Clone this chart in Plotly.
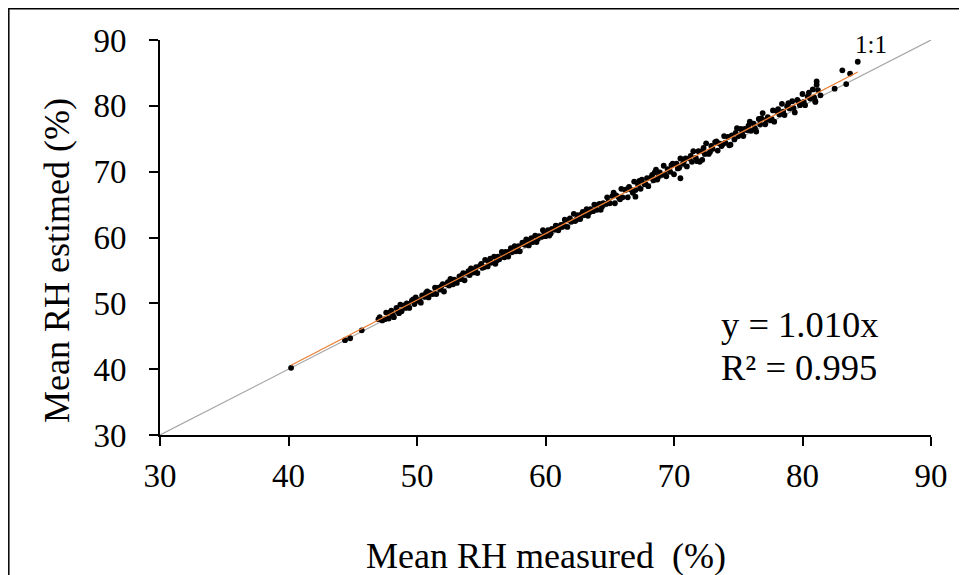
import plotly.graph_objects as go

# ---- data ----
measured = [
    40.2, 44.4, 44.8, 45.7, 47.0,
    47.1, 47.3, 47.6, 47.8, 47.9, 48.1, 48.2, 48.4, 48.5, 48.7, 48.8, 49.0, 49.1, 49.3, 49.4,
    49.6, 49.8, 49.9, 50.1, 50.3, 50.4, 50.6, 50.7, 50.9, 51.0, 51.2, 51.4, 51.5, 51.7, 51.8,
    52.0, 52.1, 52.3, 52.5, 52.6, 52.8, 52.9, 53.1, 53.3, 53.4, 53.6, 53.7, 53.9, 54.1, 54.2,
    54.4, 54.6, 54.7, 54.9,
    55.0, 55.2, 55.3, 55.5, 55.6, 55.8, 56.0, 56.1, 56.3, 56.4, 56.6, 56.8, 56.9, 57.1, 57.2,
    57.4, 57.6, 57.7, 57.9, 58.0, 58.2, 58.4, 58.5, 58.7, 58.8, 59.0, 59.2, 59.3, 59.5, 59.7,
    59.8, 60.0, 60.2, 60.3, 60.5, 60.7, 60.8, 61.0, 61.2, 61.3, 61.5, 61.7, 61.8, 62.0, 62.2,
    62.3, 62.5, 62.7, 62.8, 63.0, 63.2, 63.3, 63.5, 63.7, 63.8, 64.0, 64.2, 64.3, 64.5, 64.7,
    64.8,
    65.0, 65.2, 65.4, 65.5, 65.7, 65.9, 66.0, 66.2, 66.4, 66.5, 66.7, 66.9, 67.0, 67.2, 67.4,
    67.5, 67.7, 67.9, 68.0, 68.2, 68.4, 68.5, 68.7, 68.9, 69.0, 69.2, 69.4, 69.5, 69.7, 69.9,
    70.0, 70.2, 70.4, 70.5, 70.7, 70.9, 71.0, 71.2, 71.4, 71.5, 71.7, 71.9, 72.0, 72.2, 72.4,
    72.5, 72.7, 72.9, 73.0, 73.2, 73.4, 73.5, 73.7, 73.9, 74.0, 74.2, 74.4, 74.5, 74.7, 74.9,
    75.0, 75.2, 75.4, 75.5, 75.7, 75.9, 76.0, 76.2, 76.4, 76.6, 76.7, 76.9, 77.1, 77.3, 77.5,
    77.7, 77.8, 78.0, 78.2, 78.4, 78.6, 78.8, 79.0, 79.2, 79.4, 79.6, 79.8, 80.0, 80.2, 80.4,
    80.6, 80.8, 81.0, 81.2, 81.4,
    47.5, 48.0, 48.6, 49.2, 49.7, 50.2, 50.8, 51.3, 51.9, 52.4, 53.0, 53.5, 54.0, 54.5, 55.1,
    55.7, 56.2, 56.7, 57.3, 57.8, 58.3, 58.9, 59.4, 59.9, 60.4, 60.9, 61.4, 61.9, 62.4, 62.9,
    63.4, 63.9, 64.4, 64.9, 65.3, 65.8, 66.3, 66.8, 67.3, 67.8, 68.3, 68.8, 69.3, 69.8, 70.3,
    70.8, 71.3, 71.8, 72.3, 72.8, 73.3, 73.8, 74.3, 74.8, 75.3, 75.8, 76.3, 76.8, 77.2, 77.6,
    78.1, 78.5, 78.9, 79.3, 79.7, 80.1, 80.5, 80.9, 81.1, 81.1, 81.0, 82.5, 83.4, 83.1, 83.7,
    84.3, 67.0, 70.5, 68.6, 72.2,
]
estimated = [
    40.2, 44.4, 44.7, 45.9, 47.6,
    47.9, 47.4, 48.6, 47.7, 48.6, 48.3, 47.9, 49.3, 48.8, 49.8, 48.8, 49.7, 49.3, 49.9, 49.3,
    50.4, 49.9, 50.9, 50.4, 50.1, 51.2, 51.0, 51.6, 50.9, 51.6, 51.4, 52.4, 51.4, 52.4, 52.1,
    52.9, 51.8, 52.9, 52.7, 53.7, 52.9, 53.6, 53.1, 54.1, 53.7, 54.6, 53.5, 54.5, 54.3, 55.3,
    54.7, 55.5, 54.6, 55.7,
    56.0, 55.5, 56.6, 55.6, 56.3, 56.2, 57.1, 56.0, 57.1, 56.7, 57.8, 57.0, 57.8, 57.1, 57.9,
    57.8, 58.7, 57.9, 58.7, 57.9, 59.2, 58.9, 59.7, 58.8, 59.6, 59.3, 60.3, 59.3, 60.2, 60.1,
    61.1, 60.2, 61.1, 60.3, 61.3, 61.2, 61.8, 61.1, 61.9, 61.6, 62.7, 61.6, 62.6, 62.4, 63.6,
    62.5, 63.4, 62.8, 63.5, 63.4, 64.3, 63.3, 64.3, 64.0, 65.0, 64.2, 65.1, 64.2, 65.2, 65.1,
    66.1,
    65.2, 66.3, 65.2, 66.4, 66.1, 67.4, 66.1, 67.2, 66.1, 67.7, 67.2, 68.5, 67.2, 68.0, 67.4,
    68.8, 68.1, 69.0, 67.8, 69.1, 68.7, 69.9, 68.8, 69.9, 69.5, 70.9, 69.3, 70.4, 70.0, 71.2,
    69.6, 71.2, 70.6, 72.0, 71.2, 72.0, 70.8, 72.0, 71.5, 73.1, 72.1, 73.1, 71.5, 73.1, 72.7,
    74.3, 72.7, 73.9, 73.5, 74.5, 73.2, 74.3, 73.9, 75.4, 74.4, 75.3, 74.1, 75.5, 74.9, 76.6,
    75.4, 76.5, 75.4, 76.5, 76.3, 77.6, 76.2, 77.3, 76.1, 78.0, 77.2, 78.9, 77.2, 78.3, 77.8,
    79.3, 77.6, 79.2, 78.7, 80.3, 78.6, 79.9, 79.6, 80.7, 79.0, 80.9, 80.1, 81.8, 80.1, 81.4,
    81.1, 82.5, 80.7, 82.4, 81.6,
    47.6, 48.9, 48.5, 50.0, 50.6, 50.5, 51.8, 51.5, 52.6, 53.2, 53.4, 54.3, 54.9, 54.9, 55.4,
    56.8, 56.5, 57.5, 58.4, 58.1, 59.0, 59.9, 59.8, 60.8, 60.6, 61.7, 61.9, 62.9, 62.7, 63.9,
    63.8, 64.9, 64.7, 65.4, 66.8, 65.8, 67.3, 66.8, 68.6, 68.1, 69.5, 69.3, 69.6, 71.0, 70.5,
    71.7, 72.4, 71.6, 73.6, 73.0, 74.6, 74.2, 74.0, 75.9, 75.8, 77.0, 76.6, 78.1, 77.9, 78.0,
    79.5, 79.1, 80.4, 79.7, 80.6, 80.6, 82.0, 81.3, 83.7, 83.2, 80.6, 82.6, 83.3, 85.4, 84.9,
    86.7, 66.2, 69.0, 70.3, 71.8,
]

one_to_one = [30, 90]
trend_x = [40.2, 84.3]
slope = 1.010
trend_y = [slope * v for v in trend_x]
tick_vals = [30, 40, 50, 60, 70, 80, 90]
eq_text = "y = 1.010x"
r2_text = "R² = 0.995"

FONT = "Liberation Serif, Times New Roman, serif"

# the page places the figure 8 px from the top-left corner
OFF = 8
L, T, PW, PH = 160 - OFF, 40 - OFF, 771, 395
W, H = 967 - OFF, 575 - OFF


def px(xp):  # page pixel x -> paper
    return (xp - OFF - L) / PW


def py(yp):  # page pixel y -> paper
    return (T + PH - (yp - OFF)) / PH


fig = go.Figure()
fig.add_trace(go.Scatter(x=one_to_one, y=one_to_one, mode="lines",
                         line=dict(color="#A6A6A6", width=1.2), showlegend=False,
                         hoverinfo="skip"))
fig.add_trace(go.Scatter(x=measured, y=estimated, mode="markers",
                         marker=dict(color="black", size=5.8), showlegend=False))
fig.add_trace(go.Scatter(x=trend_x, y=trend_y, mode="lines",
                         line=dict(color="#ED7D31", width=1.2), showlegend=False,
                         hoverinfo="skip"))

axis_common = dict(range=[30, 90], tickvals=tick_vals, showgrid=False, zeroline=False,
                   showline=True, linecolor="black", linewidth=2,
                   ticks="outside", ticklen=9, tickwidth=2, tickcolor="black",
                   tickfont=dict(family=FONT, size=33, color="black"))
fig.update_xaxes(**axis_common, ticklabelstandoff=1)
fig.update_yaxes(**axis_common, ticklabelstandoff=16)

fig.update_layout(
    width=W, height=H,
    margin=dict(l=L, r=W - L - PW, t=T, b=H - T - PH),
    paper_bgcolor="white", plot_bgcolor="white",
    font=dict(family=FONT, color="black"),
    shapes=[dict(type="rect", xref="paper", yref="paper",
                 x0=px(8.8), x1=px(972), y0=py(582), y1=py(8.8),
                 line=dict(color="black", width=1.5), fillcolor="rgba(0,0,0,0)")],
    annotations=[
        dict(text="Mean RH measured  (%)", xref="paper", yref="paper",
             x=0.5, y=py(556), xanchor="center", yanchor="middle",
             showarrow=False, font=dict(family=FONT, size=36, color="black")),
        dict(text="Mean RH estimed (%)", xref="paper", yref="paper",
             x=px(57), y=py(261), xanchor="center", yanchor="middle",
             textangle=-90, showarrow=False, font=dict(family=FONT, size=36, color="black")),
        dict(text=eq_text, xref="paper", yref="paper",
             x=px(719), y=py(324), xanchor="left", yanchor="middle",
             showarrow=False, font=dict(family=FONT, size=36.5, color="black")),
        dict(text=r2_text, xref="paper", yref="paper",
             x=px(719), y=py(367), xanchor="left", yanchor="middle",
             showarrow=False, font=dict(family=FONT, size=36.5, color="black")),
        dict(text="1:1", xref="paper", yref="paper",
             x=px(871), y=py(44), xanchor="center", yanchor="middle",
             showarrow=False, font=dict(family=FONT, size=25, color="black")),
    ],
)

fig.write_html("out.html")
